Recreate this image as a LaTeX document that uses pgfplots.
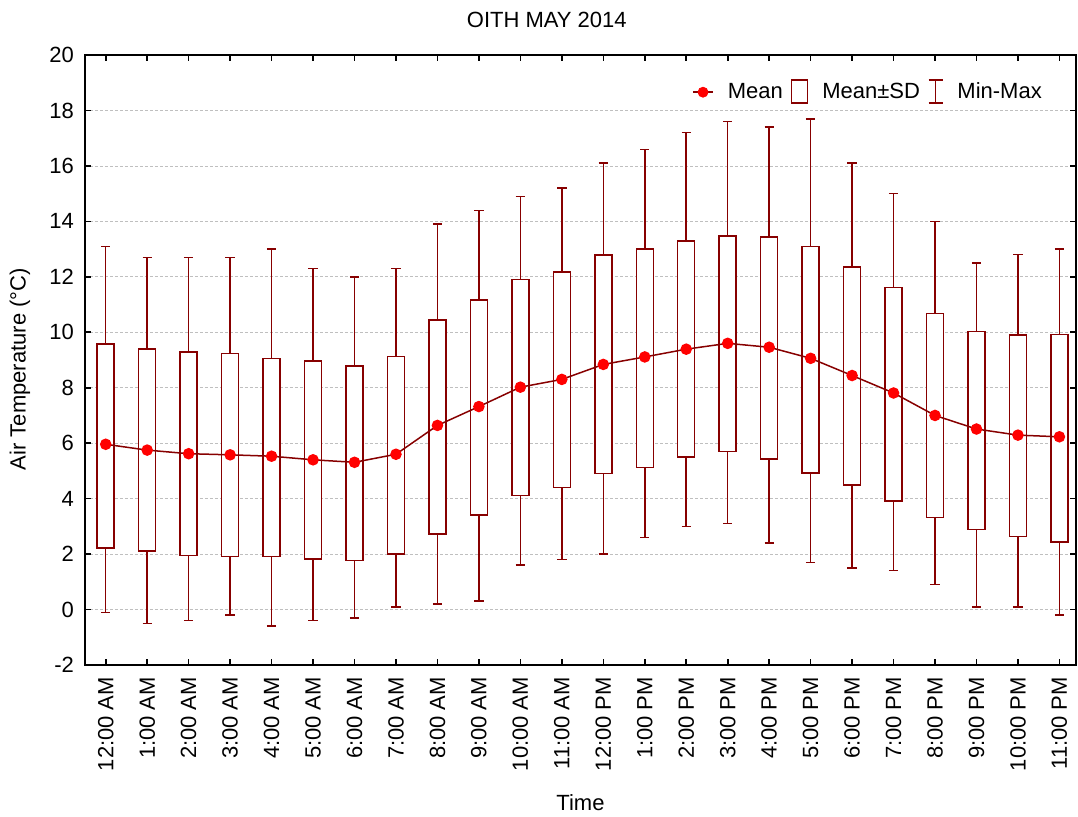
\documentclass[border=0pt]{standalone}
\usepackage{fontspec}
\setmainfont{Liberation Sans}
\usepackage{pgfplots}
\pgfplotsset{compat=1.18}
\usepackage{pgfplotstable}
\usepgfplotslibrary{statistics}
\definecolor{dred}{RGB}{135,0,0}
\definecolor{mred}{RGB}{255,0,0}

\pgfplotstableread{
x mean
0 5.96
1 5.75
2 5.62
3 5.58
4 5.53
5 5.40
6 5.31
7 5.60
8 6.64
9 7.32
10 8.02
11 8.30
12 8.84
13 9.11
14 9.39
15 9.60
16 9.46
17 9.06
18 8.44
19 7.81
20 7.00
21 6.51
22 6.29
23 6.23
}\meandata

\pgfplotsset{
  bx/.style={forget plot, dred, line width=0.75pt, solid, mark=none,
    boxplot/draw direction=y,
    boxplot/every box/.style={fill=white},
    boxplot prepared={box extend=0.41, whisker extend=0.225}},
}

\begin{document}
\begin{tikzpicture}[font=\fontsize{11}{13}\selectfont]
\begin{axis}[
  name=ax,
  scale only axis,
  width=495.5pt, height=305pt,
  xmin=-0.5, xmax=23.4,
  ymin=-2, ymax=20,
  ytick={-2,0,...,20},
  xtick={0,...,23},
  xticklabels={12:00 AM,1:00 AM,2:00 AM,3:00 AM,4:00 AM,5:00 AM,6:00 AM,7:00 AM,8:00 AM,9:00 AM,10:00 AM,11:00 AM,12:00 PM,1:00 PM,2:00 PM,3:00 PM,4:00 PM,5:00 PM,6:00 PM,7:00 PM,8:00 PM,9:00 PM,10:00 PM,11:00 PM},
  xticklabel style={rotate=90, anchor=east},
  xticklabel shift=2.5pt,
  yticklabel shift=2pt,
  tick align=inside,
  major tick length=3pt,
  axis line style={line width=0.8pt},
  every tick/.style={black, line width=0.8pt},
  ymajorgrids,
  grid style={dash pattern=on 1.5pt off 1pt, gray!50, line width=0.4pt},
  /pgf/number format/assume math mode=true,
  title={OITH MAY 2014},
  title style={at={(axis description cs:0.466,1)}, anchor=center, yshift=11.5pt},
  xlabel={Time},
  xlabel style={at={(axis description cs:0.5,0)}, anchor=center, yshift=-69pt},
  ylabel={Air Temperature (°C)},
  ylabel style={at={(axis description cs:-0.0656,0.485)}, anchor=center},
  legend columns=3,
  legend style={draw=none, fill=none, at={(axis description cs:0.976,0.939)}, anchor=east,
    /tikz/every even column/.append style={column sep=2pt},
    /tikz/every odd column/.append style={column sep=5pt}},
  legend cell align=left,
]
\addlegendimage{legend image code/.code={\draw[dred, line width=0.75pt] (0pt,0pt) -- (10pt,0pt); \fill[mred] (5pt,0pt) circle (2.5pt);}}
\addlegendentry{Mean}
\addlegendimage{legend image code/.code={\draw[dred, line width=0.75pt, fill=white] (0pt,-5.5pt) rectangle (8pt,6pt);}}
\addlegendentry{Mean±SD}
\addlegendimage{legend image code/.code={\draw[dred, line width=0.75pt] (3.5pt,-5.5pt) -- (3.5pt,6pt); \draw[dred, line width=0.75pt] (0pt,-5.5pt) -- (7pt,-5.5pt); \draw[dred, line width=0.75pt] (0pt,6pt) -- (7pt,6pt);}}
\addlegendentry{Min-Max}

% boxes: lower whisker = Min, lower/upper quartile = Mean-SD / Mean+SD, upper whisker = Max
\addplot[bx, boxplot prepared={draw position=0, lower whisker=-0.10, lower quartile=2.22, median=2.22, upper quartile=9.58, upper whisker=13.1}] coordinates {};
\addplot[bx, boxplot prepared={draw position=1, lower whisker=-0.50, lower quartile=2.11, median=2.11, upper quartile=9.40, upper whisker=12.7}] coordinates {};
\addplot[bx, boxplot prepared={draw position=2, lower whisker=-0.40, lower quartile=1.94, median=1.94, upper quartile=9.29, upper whisker=12.7}] coordinates {};
\addplot[bx, boxplot prepared={draw position=3, lower whisker=-0.20, lower quartile=1.91, median=1.91, upper quartile=9.24, upper whisker=12.7}] coordinates {};
\addplot[bx, boxplot prepared={draw position=4, lower whisker=-0.60, lower quartile=1.91, median=1.91, upper quartile=9.06, upper whisker=13.0}] coordinates {};
\addplot[bx, boxplot prepared={draw position=5, lower whisker=-0.40, lower quartile=1.83, median=1.83, upper quartile=8.96, upper whisker=12.3}] coordinates {};
\addplot[bx, boxplot prepared={draw position=6, lower whisker=-0.30, lower quartile=1.77, median=1.77, upper quartile=8.78, upper whisker=12.0}] coordinates {};
\addplot[bx, boxplot prepared={draw position=7, lower whisker=0.10, lower quartile=2.00, median=2.00, upper quartile=9.13, upper whisker=12.3}] coordinates {};
\addplot[bx, boxplot prepared={draw position=8, lower whisker=0.20, lower quartile=2.73, median=2.73, upper quartile=10.45, upper whisker=13.9}] coordinates {};
\addplot[bx, boxplot prepared={draw position=9, lower whisker=0.30, lower quartile=3.41, median=3.41, upper quartile=11.16, upper whisker=14.4}] coordinates {};
\addplot[bx, boxplot prepared={draw position=10, lower whisker=1.60, lower quartile=4.11, median=4.11, upper quartile=11.90, upper whisker=14.9}] coordinates {};
\addplot[bx, boxplot prepared={draw position=11, lower whisker=1.80, lower quartile=4.40, median=4.40, upper quartile=12.18, upper whisker=15.2}] coordinates {};
\addplot[bx, boxplot prepared={draw position=12, lower whisker=2.00, lower quartile=4.91, median=4.91, upper quartile=12.79, upper whisker=16.1}] coordinates {};
\addplot[bx, boxplot prepared={draw position=13, lower whisker=2.60, lower quartile=5.12, median=5.12, upper quartile=13.01, upper whisker=16.6}] coordinates {};
\addplot[bx, boxplot prepared={draw position=14, lower whisker=3.00, lower quartile=5.50, median=5.50, upper quartile=13.29, upper whisker=17.2}] coordinates {};
\addplot[bx, boxplot prepared={draw position=15, lower whisker=3.10, lower quartile=5.70, median=5.70, upper quartile=13.47, upper whisker=17.6}] coordinates {};
\addplot[bx, boxplot prepared={draw position=16, lower whisker=2.40, lower quartile=5.43, median=5.43, upper quartile=13.43, upper whisker=17.4}] coordinates {};
\addplot[bx, boxplot prepared={draw position=17, lower whisker=1.70, lower quartile=4.92, median=4.92, upper quartile=13.09, upper whisker=17.7}] coordinates {};
\addplot[bx, boxplot prepared={draw position=18, lower whisker=1.50, lower quartile=4.49, median=4.49, upper quartile=12.36, upper whisker=16.1}] coordinates {};
\addplot[bx, boxplot prepared={draw position=19, lower whisker=1.40, lower quartile=3.92, median=3.92, upper quartile=11.61, upper whisker=15.0}] coordinates {};
\addplot[bx, boxplot prepared={draw position=20, lower whisker=0.90, lower quartile=3.32, median=3.32, upper quartile=10.67, upper whisker=14.0}] coordinates {};
\addplot[bx, boxplot prepared={draw position=21, lower whisker=0.10, lower quartile=2.88, median=2.88, upper quartile=10.03, upper whisker=12.5}] coordinates {};
\addplot[bx, boxplot prepared={draw position=22, lower whisker=0.10, lower quartile=2.63, median=2.63, upper quartile=9.90, upper whisker=12.8}] coordinates {};
\addplot[bx, boxplot prepared={draw position=23, lower whisker=-0.20, lower quartile=2.44, median=2.44, upper quartile=9.92, upper whisker=13.0}] coordinates {};

\addplot[forget plot, dred, line width=0.75pt, mark=*, mark size=2.5pt, mark options={fill=mred, draw=mred}] table[x=x, y=mean] {\meandata};
\end{axis}
\pgfresetboundingbox
\path[use as bounding box] (ax.south west) ++(-42.5pt,-76pt) rectangle ([xshift=1pt,yshift=27.5pt]ax.north east);
\end{tikzpicture}
\end{document}
